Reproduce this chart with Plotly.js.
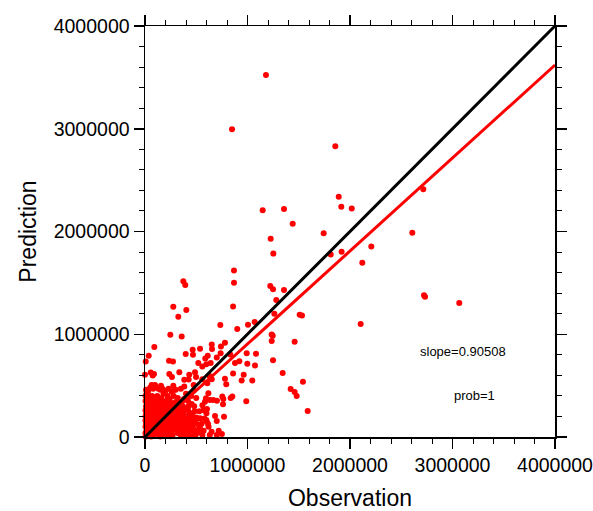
<!DOCTYPE html>
<html>
<head>
<meta charset="utf-8">
<script src="https://cdn.plot.ly/plotly-3.0.1.min.js"></script>
<style>html,body{margin:0;padding:0;background:#fff;}</style>
</head>
<body>
<div id="chart" style="width:593px;height:511px;"></div>
<script>
// Observation / Prediction pairs
const obsX = [
 1180000, 849000, 1857000, 1890000, 1915000, 2017000, 1148000, 1356000, 1441000, 1743000,
 1226000, 1252000, 1918000, 1812000, 2208000, 2120000, 868000, 868000, 374000, 393000,
 1222000, 1249000, 1356000, 1281000, 859000, 276000, 403000, 325000, 1262000, 1509000,
 1532000, 735000, 1005000, 1070000, 900000, 2104000, 247000, 358000, 1236000, 1246000,
 1236000, 1460000, 1249000, 1343000, 1541000, 1421000, 1460000, 1480000, 1587000, 2715000,
 2608000, 2722000, 2732000, 3066000,
 91000, 36000, 7000, 397000, 465000, 468000, 651000, 654000, 780000, 741000,
 612000, 588000, 832000, 234000, 273000, 520000, 598000, 335000, 488000, 237000,
 263000, 426000, 383000, 559000, 627000, 651000, 65000, 98000, 156000, 276000,
 383000, 286000, 475000, 475000, 608000, 780000, 793000, 859000, 963000, 943000,
 1047000, 1073000, 998000, 618000, 585000, 666000, 702000, 754000, 852000, 988000,
 761000, 573000, 605000, 507000, 598000, 615000, 683000, 700000, 771000, 719000,
 0, 75000, 700000, 738000, 992000, 537000, 468000, 595000, 634000, 836000,
 764000, 588000, 449000, 537000, 1083000, 878000, 920000, 537000, 559000, 641000,
 432000, 498000, 56000, 88000,
 10000, 20000, 30000, 40000, 50000, 60000, 70000, 80000, 90000, 100000,
 110000, 120000, 130000, 140000, 150000, 160000, 170000, 180000, 190000, 200000,
 210000, 220000, 230000, 240000, 250000, 260000, 270000, 280000, 290000, 300000,
 310000, 320000, 330000, 340000, 350000, 360000, 370000, 380000, 390000, 400000,
 410000, 420000, 430000, 440000, 450000, 460000, 470000, 480000, 490000, 500000,
 520000, 540000, 560000,
 20000, 30000, 10000, 40000, 15000, 50000, 60000, 25000, 70000, 80000,
 90000, 100000, 110000, 120000, 130000, 140000, 160000, 170000, 180000, 200000,
 210000, 220000, 240000, 260000, 280000, 300000, 320000, 340000, 5000, 5000,
 10000, 35000, 50000, 80000, 100000, 130000, 150000, 170000, 200000, 230000,
 260000, 300000, 350000, 400000, 380000, 420000, 450000, 480000, 500000, 530000,
 560000, 580000, 600000, 620000, 650000, 700000, 750000, 450000, 350000, 250000,
 150000, 60000, 5000,
 15000, 25000, 35000, 45000, 55000, 65000, 75000, 85000, 95000, 105000,
 115000, 125000, 135000, 145000, 155000, 165000, 175000, 185000, 195000, 205000,
 215000, 225000, 235000, 245000, 255000, 265000, 275000, 285000, 295000, 305000,
 315000, 325000, 335000, 345000, 355000, 365000, 375000, 385000, 395000, 405000,
 415000, 425000, 435000, 445000, 455000, 465000, 475000, 485000,
 8000, 18000, 28000, 38000, 48000, 58000, 68000, 78000, 88000, 98000,
 108000, 118000, 128000, 138000, 148000, 158000, 168000, 178000, 188000, 198000,
 12000, 22000, 32000, 42000, 52000, 62000, 72000, 82000, 92000, 102000,
 112000, 122000, 132000, 142000, 152000, 162000, 172000, 182000, 192000, 212000,
 232000, 252000, 272000, 292000, 312000, 332000, 352000, 372000, 392000, 412000,
 432000, 452000, 472000, 492000, 512000, 532000, 552000, 572000, 602000, 632000,
 5000, 5000, 5000, 5000, 5000, 10000, 15000, 20000, 25000, 30000,
 35000, 40000, 45000, 55000, 65000, 75000, 85000, 95000, 105000, 115000,
 125000, 135000, 145000, 155000, 165000, 175000, 185000, 195000, 205000, 215000,
 225000, 235000, 245000, 255000, 265000, 275000, 285000, 295000, 305000, 315000
];
const predY = [
 3522000, 2995000, 2829000, 2338000, 2241000, 2224000, 2208000, 2218000, 2075000, 1983000,
 1929000, 1785000, 1802000, 1776000, 1854000, 1695000, 1620000, 1502000, 1515000, 1480000,
 1470000, 1437000, 1431000, 1334000, 1271000, 1268000, 1236000, 1171000, 1200000, 1190000,
 1183000, 1090000, 1093000, 1119000, 1051000, 1100000, 995000, 979000, 998000, 985000,
 934000, 927000, 748000, 624000, 537000, 468000, 439000, 400000, 254000, 2410000,
 1987000, 1379000, 1366000, 1304000,
 875000, 790000, 735000, 807000, 849000, 800000, 900000, 856000, 917000, 881000,
 790000, 764000, 803000, 741000, 735000, 719000, 709000, 631000, 631000, 612000,
 585000, 559000, 556000, 563000, 595000, 563000, 507000, 507000, 498000, 498000,
 491000, 459000, 507000, 452000, 524000, 566000, 514000, 618000, 605000, 549000,
 549000, 696000, 712000, 426000, 344000, 361000, 354000, 393000, 393000, 348000,
 319000, 263000, 273000, 182000, 166000, 127000, 205000, 156000, 198000, 61000,
 605000, 598000, 774000, 816000, 816000, 88000, 117000, 378000, 361000, 380000,
 371000, 254000, 198000, 182000, 810000, 719000, 738000, 858000, 686000, 719000,
 605000, 585000, 627000, 612000,
 20000, 50000, 10000, 80000, 30000, 120000, 60000, 20000, 150000, 90000,
 40000, 180000, 110000, 60000, 200000, 140000, 90000, 30000, 240000, 170000,
 110000, 50000, 280000, 200000, 140000, 80000, 20000, 310000, 230000, 160000,
 100000, 40000, 260000, 190000, 120000, 60000, 300000, 220000, 150000, 80000,
 20000, 260000, 180000, 110000, 50000, 230000, 140000, 70000, 10000, 190000,
 120000, 60000, 20000,
 150000, 250000, 300000, 350000, 420000, 200000, 300000, 380000, 400000, 250000,
 350000, 300000, 220000, 400000, 320000, 260000, 380000, 330000, 420000, 350000,
 290000, 400000, 370000, 330000, 400000, 340000, 380000, 300000, 100000, 200000,
 460000, 460000, 480000, 470000, 490000, 470000, 460000, 470000, 450000, 470000,
 440000, 460000, 470000, 420000, 370000, 350000, 400000, 300000, 380000, 250000,
 310000, 180000, 230000, 100000, 50000, 20000, 30000, 20000, 15000, 8000,
 5000, 5000, 5000,
 60000, 100000, 130000, 170000, 60000, 200000, 130000, 80000, 220000, 180000,
 130000, 250000, 170000, 210000, 100000, 230000, 170000, 270000, 130000, 250000,
 180000, 320000, 240000, 90000, 230000, 280000, 160000, 70000, 260000, 310000,
 220000, 150000, 90000, 340000, 250000, 200000, 110000, 30000, 270000, 180000,
 60000, 300000, 220000, 140000, 320000, 80000, 190000, 250000,
 40000, 90000, 140000, 190000, 240000, 290000, 340000, 30000, 110000, 260000,
 310000, 70000, 360000, 20000, 130000, 290000, 50000, 120000, 200000, 60000,
 230000, 330000, 180000, 280000, 380000, 160000, 230000, 320000, 60000, 140000,
 280000, 40000, 210000, 330000, 50000, 180000, 260000, 80000, 160000, 70000,
 140000, 60000, 200000, 120000, 180000, 40000, 160000, 60000, 110000, 140000,
 40000, 100000, 30000, 150000, 40000, 90000, 130000, 60000, 150000, 20000,
 40000, 160000, 260000, 350000, 400000, 130000, 200000, 280000, 40000, 420000,
 320000, 20000, 100000, 140000, 250000, 360000, 190000, 30000, 100000, 360000,
 150000, 90000, 300000, 240000, 140000, 40000, 320000, 220000, 120000, 20000,
 220000, 60000, 160000, 320000, 130000, 240000, 190000, 90000, 200000, 130000
];
// reference lines
const lineX = [0, 4000000];
const oneToOneY = [0, 4000000];
const slope = 0.90508;
const fitY = [0, 3620320];
const xTicks = [0, 1000000, 2000000, 3000000, 4000000];
const yTicks = [0, 1000000, 2000000, 3000000, 4000000];

const traces = [
  {x: obsX, y: predY, type: 'scatter', mode: 'markers', cliponaxis: false,
   marker: {color: '#ff0000', size: 6}, hoverinfo: 'none'},
  {x: lineX, y: fitY, type: 'scatter', mode: 'lines', cliponaxis: false,
   line: {color: '#ff0000', width: 3}},
  {x: lineX, y: oneToOneY, type: 'scatter', mode: 'lines', cliponaxis: false,
   line: {color: '#000000', width: 3}}
];

const axisBase = {
  range: [0, 4000000], autorange: false, showgrid: false, zeroline: false,
  showline: true, linecolor: '#000', linewidth: 1.5, mirror: 'allticks',
  ticks: 'outside', ticklen: 10, tickwidth: 1.5, tickcolor: '#000',
  ticklabeloverflow: 'allow',
  tickformat: 'd', tickfont: {family: 'Liberation Sans, Arial, sans-serif', size: 19.5, color: '#000'},
  minor: {dtick: 200000, ticks: 'outside', ticklen: 5, tickwidth: 1, tickcolor: '#000'}
};

const layout = {
  width: 593, height: 511,
  margin: {l: 145, r: 38, t: 26, b: 74},
  paper_bgcolor: '#fff', plot_bgcolor: '#fff',
  showlegend: false,
  font: {family: 'Liberation Sans, Arial, sans-serif', color: '#000'},
  xaxis: Object.assign({}, axisBase, {
    tickvals: xTicks, ticktext: xTicks.map(String),
    title: {text: 'Observation', font: {size: 23, color: '#000'}, standoff: 15}
  }),
  yaxis: Object.assign({}, axisBase, {
    tickvals: yTicks, ticktext: yTicks.map(String),
    title: {text: 'Prediction', font: {size: 23, color: '#000'}, standoff: 10}
  }),
  annotations: [
    {x: 3102000, y: 829000, xref: 'x', yref: 'y', text: 'slope=' + slope,
     showarrow: false, font: {size: 13, color: '#000'}},
    {x: 3210000, y: 400000, xref: 'x', yref: 'y', text: 'prob=1',
     showarrow: false, font: {size: 13, color: '#000'}}
  ]
};

Plotly.newPlot('chart', traces, layout, {displayModeBar: false, staticPlot: true});
</script>
</body>
</html>
